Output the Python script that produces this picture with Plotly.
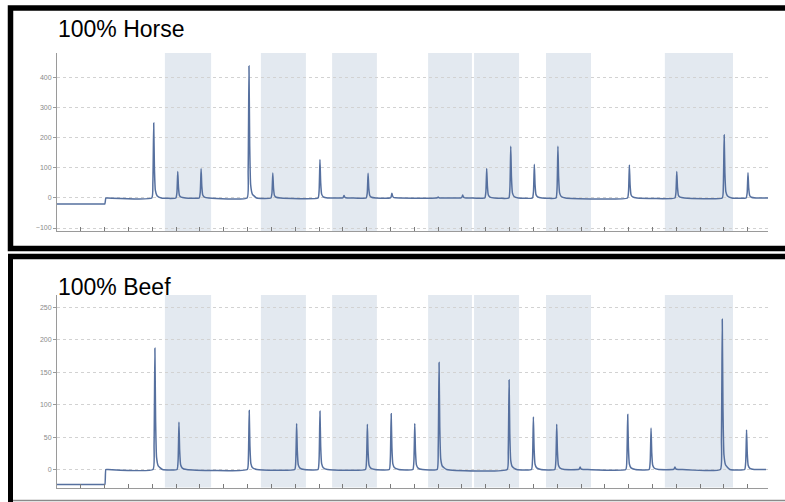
import plotly.graph_objects as go

# ---------------- data ----------------
horse_peak_x = [4.06, 5.07, 6.05, 8.06, 9.06, 11.04, 12.05, 13.06, 14.06, 16.0,
                17.03, 18.04, 19.05, 20.04, 21.03, 24.03, 26.02, 28.01, 29.01]
horse_peak_h = [250, 88, 97, 440, 83, 128, 8, 82, 16, 3,
                10, 98, 172, 112, 172, 110, 88, 210, 84]
horse_start_level = -20
horse_step_x = 2.02
horse_end_x = 29.85

beef_peak_x = [4.11, 5.12, 8.07, 10.06, 11.04, 13.03, 14.03, 15.02, 16.04, 18.98,
               20.0, 20.98, 21.96, 23.96, 24.94, 25.94, 27.93, 28.95]
beef_peak_h = [187, 73, 91, 71, 90, 70, 86, 71, 165, 138,
               81, 70, 4, 85, 64, 4, 232, 61]
beef_start_level = -23
beef_step_x = 2.02
beef_end_x = 29.77

band_starts = [4.53, 8.56, 11.55, 15.58, 17.51, 20.53, 25.52]
band_ends = [6.47, 10.45, 13.43, 17.42, 19.40, 22.42, 28.38]

x_ticks = list(range(1, 30))
horse_y_ticks = [-100, 0, 100, 200, 300, 400]
beef_y_ticks = [0, 50, 100, 150, 200, 250]

panel_titles = ["100% Horse", "100% Beef"]

# peak outline template (relative x offset, fraction of peak height)
peak_dx = [-0.08, -0.035, 0.0, 0.03, 0.07, 0.14, 0.32]
peak_frac = [0.0, 0.2, 1.0, 0.4, 0.1, 0.03, 0.0]

W, H = 785, 502
LINE_COLOR = "#56709f"
BAND_COLOR = "#e3e9f0"


def trace_points(start_level, step_x, px, ph, end_x):
    xs = [0, 0.5, 1.0, 1.5, step_x - 0.1, step_x - 0.01, step_x + 0.03, step_x + 0.12]
    ys = [start_level] * 6 + [0, 0]
    for p, h in zip(px, ph):
        for dx, f in zip(peak_dx, peak_frac):
            xs.append(p + dx)
            ys.append(f * h)
    xs.append(end_x)
    ys.append(0)
    return xs, ys


def xp(px):
    return px / W


def yp(py):
    return 1 - py / H


fig = go.Figure()

hx, hy = trace_points(horse_start_level, horse_step_x, horse_peak_x, horse_peak_h, horse_end_x)
bx, by = trace_points(beef_start_level, beef_step_x, beef_peak_x, beef_peak_h, beef_end_x)

fig.add_trace(go.Scatter(x=hx, y=hy, mode="lines", line=dict(color=LINE_COLOR, width=1.5, shape="spline", smoothing=0.4),
                         xaxis="x", yaxis="y", showlegend=False, hoverinfo="skip"))
fig.add_trace(go.Scatter(x=bx, y=by, mode="lines", line=dict(color=LINE_COLOR, width=1.5, shape="spline", smoothing=0.4),
                         xaxis="x2", yaxis="y2", showlegend=False, hoverinfo="skip"))

shapes = []
for xr, yr in (("x", "y domain"), ("x2", "y2 domain")):
    for s, e in zip(band_starts, band_ends):
        shapes.append(dict(type="rect", xref=xr, yref=yr, x0=s, x1=e, y0=0, y1=1,
                           fillcolor=BAND_COLOR, line=dict(width=0), layer="below"))

# panel borders
shapes += [
    dict(type="rect", xref="paper", yref="paper", x0=xp(10.5), x1=xp(800), y0=yp(8), y1=yp(248.5),
         line=dict(color="black", width=5.5), fillcolor="rgba(0,0,0,0)"),
    dict(type="line", xref="paper", yref="paper", x0=xp(8), x1=xp(800), y0=yp(256.5), y1=yp(256.5),
         line=dict(color="black", width=5.5)),
    dict(type="line", xref="paper", yref="paper", x0=xp(10.5), x1=xp(10.5), y0=yp(254), y1=yp(510),
         line=dict(color="black", width=5)),
    dict(type="line", xref="paper", yref="paper", x0=xp(13), x1=xp(800), y0=yp(500.5), y1=yp(500.5),
         line=dict(color="#8a8a8a", width=1.5)),
]

xaxis_common = dict(range=[0, 29.85], tickvals=x_ticks, showticklabels=False, ticks="inside",
                    ticklen=4, tickcolor="#7a7a7a", showline=True, linecolor="#9a9a9a", linewidth=1,
                    showgrid=False, zeroline=False, fixedrange=True)
yaxis_common = dict(ticks="outside", ticklen=3, tickcolor="#9a9a9a", showline=True,
                    linecolor="#9a9a9a", linewidth=1, showgrid=True, gridcolor="#d2d2d2",
                    griddash="dot", gridwidth=1, zeroline=False,
                    tickfont=dict(size=7, color="#8a8a8a", family="Liberation Sans"), fixedrange=True)

fig.update_layout(
    width=W, height=H, autosize=False,
    margin=dict(l=0, r=0, t=0, b=0),
    paper_bgcolor="white", plot_bgcolor="rgba(0,0,0,0)",
    xaxis=dict(domain=[xp(57), xp(768)], anchor="y", **xaxis_common),
    yaxis=dict(domain=[yp(231), yp(53)], anchor="x", range=[-110, 483], tickvals=horse_y_ticks,
               **yaxis_common),
    xaxis2=dict(domain=[xp(57), xp(768)], anchor="y2", **xaxis_common),
    yaxis2=dict(domain=[yp(487.5), yp(295)], anchor="x2", range=[-27.8, 269.3], tickvals=beef_y_ticks,
                **yaxis_common),
    shapes=shapes,
    annotations=[
        dict(text=panel_titles[0], xref="paper", yref="paper", x=xp(56), y=yp(29.5),
             xanchor="left", yanchor="middle", showarrow=False,
             font=dict(size=23, color="black", family="Liberation Sans")),
        dict(text=panel_titles[1], xref="paper", yref="paper", x=xp(56), y=yp(286.5),
             xanchor="left", yanchor="middle", showarrow=False,
             font=dict(size=23, color="black", family="Liberation Sans")),
    ],
)

fig.write_html("out.html")
